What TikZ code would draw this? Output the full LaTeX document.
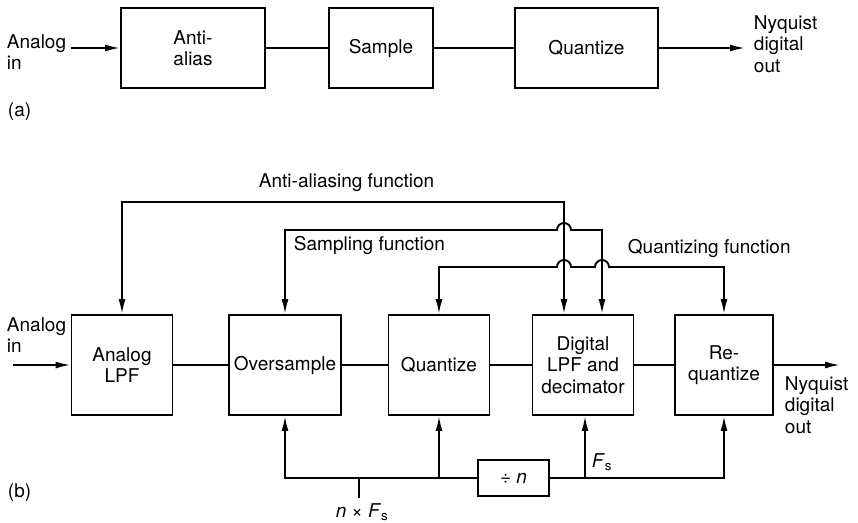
\documentclass[tikz,border=0pt]{standalone}
\usepackage{fontspec}
\setmainfont{TeX Gyre Heros}
\usetikzlibrary{arrows.meta}
\newcommand\figfont{\fontsize{19}{21.5}\selectfont}
\begin{document}
\begin{tikzpicture}[x=1pt,y=-1pt,line width=1.9pt,
  blk/.style={draw,line width=1.9pt,inner sep=0pt,align=center,font=\figfont},
  arr/.style={-{Latex[length=15pt,width=7pt]}},
  tiptwo/.style={{Latex[length=15pt,width=7pt]}-{Latex[length=15pt,width=7pt]}},
  lbl/.style={inner sep=0pt,align=left,font=\figfont}]
\useasboundingbox (0,0) rectangle (858,522);
% ---------- (a) ----------
\node[blk,minimum width=144pt,minimum height=80pt] (aa) at (193,48) {Anti-\\alias};
\node[blk,minimum width=104pt,minimum height=80pt] (sa) at (381,48) {Sample};
\node[blk,minimum width=143pt,minimum height=80pt] (qa) at (586.5,48) {Quantize};
\node[lbl,anchor=west] (ina) at (6,52) {Analog\\in};
\node[lbl,anchor=west] (outa) at (753,44) {Nyquist\\digital\\out};
\node[lbl,anchor=west] (la) at (7,112) {(a)};
\coordinate (ain) at (71,48);
\coordinate (aout) at (745,48);
\draw[arr] (ain) -- (aa.west);
\draw (aa.east) -- (sa.west);
\draw (sa.east) -- (qa.west);
\draw[arr] (qa.east) -- (aout);
% ---------- (b) ----------
\node[blk,minimum width=101pt,minimum height=100pt] (alpf) at (122,365) {Analog\\LPF};
\node[blk,minimum width=112pt,minimum height=100pt] (over) at (285,365) {Oversample};
\node[blk,minimum width=101pt,minimum height=100pt] (quan) at (439,365) {Quantize};
\node[blk,minimum width=101pt,minimum height=100pt] (dig) at (583,365) {Digital\\LPF and\\decimator};
\node[blk,minimum width=98pt,minimum height=100pt] (req) at (724,365) {Re-\\quantize};
\node[blk,minimum width=71pt,minimum height=36pt] (divn) at (513.5,478) {÷ \textit{n}};
\node[lbl,anchor=west] (inb) at (6,335) {Analog\\in};
\node[lbl,anchor=west] (outb) at (784,405) {Nyquist\\digital\\out};
\node[lbl,anchor=west] (lb) at (7,493) {(b)};
\node[lbl,anchor=west] (taa) at (258,183) {Anti-aliasing function};
\node[lbl,anchor=west] (tsa) at (293,245) {Sampling function};
\node[lbl,anchor=west] (tqa) at (627,248) {Quantizing function};
\node[lbl] (tfs) at (602,462) {\textit{F}\textsubscript{s}};
\node[lbl] (tnfs) at (362,512) {\textit{n} × \textit{F}\textsubscript{s}};
\coordinate (bin) at (13,365);
\coordinate (bout) at (840,365);
\draw[arr] (bin) -- (alpf.west);
\draw (alpf.east) -- (over.west);
\draw (over.east) -- (quan.west);
\draw (quan.east) -- (dig.west);
\draw (dig.east) -- (req.west);
\draw[arr] (req.east) -- (bout);
% function lines
\coordinate (aa1) at (122,202);
\coordinate (aa2) at (564,202);
\draw[tiptwo] (alpf.north) -- (aa1) -- (aa2) -- (dig.north -| aa2);
\coordinate (s1) at (285,230);
\coordinate (s2) at (602,230);
\draw[tiptwo] (over.north) -- (s1) -- (557,230) arc[start angle=180,end angle=360,radius=7] -- (s2) -- (dig.north -| s2);
\coordinate (q1) at (439,267);
\coordinate (q2) at (724,267);
\draw[tiptwo] (quan.north) -- (q1) -- (557,267) arc[start angle=180,end angle=360,radius=7]
  -- (595,267) arc[start angle=180,end angle=360,radius=7] -- (q2) -- (req.north);
% clock lines
\coordinate (b1) at (285,478);
\coordinate (b2) at (439,478);
\coordinate (b3) at (585,478);
\coordinate (b4) at (724,478);
\coordinate (nin) at (359,498);
\coordinate (nj) at (359,478);
\draw[arr] (divn.west) -- (b1) -- (over.south);
\draw[arr] (b2) -- (quan.south);
\draw[arr] (divn.east) -- (b4) -- (req.south);
\draw[arr] (b3) -- (dig.south -| b3);
\draw (nin) -- (nj);
\end{tikzpicture}
\end{document}
